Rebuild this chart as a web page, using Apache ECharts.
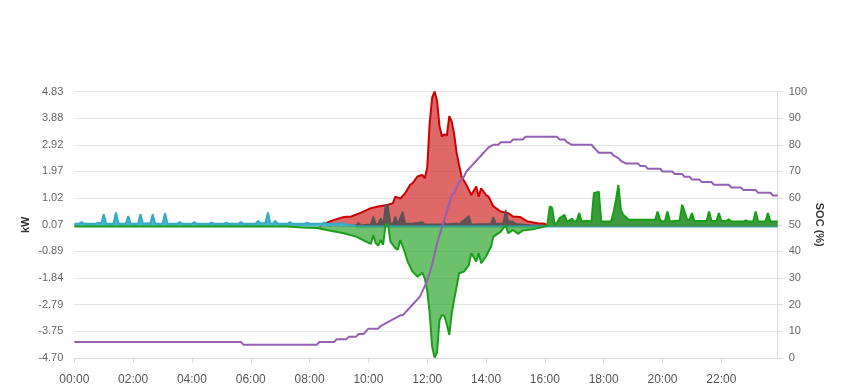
<!DOCTYPE html>
<html>
<head>
<meta charset="utf-8">
<script src="https://cdn.jsdelivr.net/npm/echarts@6/dist/echarts.min.js"></script>
<style>
html,body{margin:0;padding:0;background:#fff;}
#chart{width:849px;height:390px;}
</style>
</head>
<body>
<div id="chart"></div>
<script>
// ---- tick labels ----
const kwTicks = ['-4.70','-3.75','-2.79','-1.84','-0.89','0.07','1.02','1.97','2.92','3.88','4.83'];
const kwMin = -4.70, kwMax = 4.83, kwInterval = 0.953;
const socMin = 0, socMax = 100, socInterval = 10;

// ---- categories (5-minute slots) ----
const times = [];
for (let h = 0; h < 24; h++) {
  for (let m = 0; m < 60; m += 5) {
    times.push(String(h).padStart(2,'0') + ':' + String(m).padStart(2,'0'));
  }
}

// ---- series values [time, kW] ----
const pvData = [
  ['08:20',0],['08:30',0.1],['08:50',0.24],['09:10',0.34],['09:25',0.36],['09:45',0.5],['10:05',0.66],
  ['10:20',0.72],['10:40',0.78],['10:50',0.84],['10:55',1.07],['11:05',1.0],['11:15',1.19],['11:25',1.49],
  ['11:30',1.55],['11:40',1.79],['11:50',1.85],['11:55',1.73],['12:00',2.1],['12:05',3.7],['12:10',4.6],
  ['12:15',4.83],['12:20',4.5],['12:25',3.6],['12:30',3.22],['12:35',3.3],['12:40',3.25],['12:45',3.95],
  ['12:50',3.75],['12:55',3.3],['13:00',2.63],['13:05',2.2],['13:10',1.79],['13:20',1.49],['13:30',1.13],
  ['13:40',1.43],['13:45',1.07],['13:50',1.37],['14:00',1.13],['14:05',1.07],['14:15',0.72],['14:30',0.54],
  ['14:45',0.48],['14:55',0.36],['15:10',0.34],['15:25',0.18],['15:45',0.12],['16:00',0.1],['16:05',0]
];
const loadData = [
  ['08:40',0],['08:45',0.05],['09:35',0.05],['09:40',0.14],['09:45',0.05],['10:05',0.08],['10:10',0.36],
  ['10:15',0.08],['10:20',0.1],['10:25',0.3],['10:30',0.1],['10:35',0.78],['10:40',0.74],['10:45',0.12],
  ['10:50',0.1],['10:55',0.36],['11:00',0.1],['11:10',0.54],['11:15',0.12],['11:25',0.1],['11:50',0.16],
  ['11:55',0.08],['12:30',0.08],['12:35',0.14],['12:40',0.08],['13:00',0.12],['13:05',0.08],['13:25',0.38],
  ['13:30',0.08],['14:10',0.1],['14:15',0.34],['14:20',0.1],['14:35',0.12],['14:40',0.6],['14:45',0.2],
  ['14:55',0.18],['15:00',0.1],['15:30',0.06],['15:55',0.05],['16:00',0]
];
const gridData = [
  ['00:00',0.1],['00:10',0.1],['00:15',0.16],['00:20',0.1],['00:45',0.1],['00:50',0.14],['00:55',0.1],
  ['01:00',0.44],['01:05',0.1],['01:20',0.1],['01:25',0.5],['01:30',0.1],['01:45',0.1],['01:50',0.38],
  ['01:55',0.1],['02:10',0.1],['02:15',0.44],['02:20',0.1],['02:30',0.12],['02:35',0.1],['02:40',0.44],
  ['02:45',0.1],['03:00',0.1],['03:05',0.48],['03:10',0.1],['03:30',0.1],['03:35',0.16],['03:40',0.1],
  ['04:00',0.1],['04:05',0.16],['04:10',0.1],['04:35',0.1],['04:40',0.14],['04:45',0.1],['05:05',0.1],
  ['05:10',0.14],['05:15',0.1],['05:35',0.1],['05:40',0.16],['05:45',0.1],['06:10',0.1],['06:15',0.2],
  ['06:20',0.12],['06:30',0.12],['06:35',0.5],['06:40',0.1],['06:45',0.1],['06:50',0.2],['06:55',0.1],
  ['07:15',0.1],['07:20',0.16],['07:25',0.1],['07:50',0.1],['07:55',0.14],['08:00',0.1],['08:25',0.1],
  ['08:30',0.14],['08:35',0.1],['09:00',0.1],['09:05',0.14],['09:10',0.08],['09:30',0.04],['09:35',0],
  ['23:55',0]
];
const chargeData = [
  ['00:00',0],['07:15',0],['07:45',-0.03],['08:15',-0.05],['08:35',-0.12],['09:10',-0.24],['09:35',-0.36],
  ['09:55',-0.54],['10:05',-0.62],['10:10',-0.3],['10:15',-0.6],['10:20',-0.68],['10:25',-0.48],['10:30',-0.65],
  ['10:35',0.06],['10:40',0.1],['10:45',-0.54],['10:55',-0.77],['11:00',-0.83],['11:05',-0.48],['11:15',-0.95],
  ['11:20',-1.25],['11:30',-1.61],['11:40',-1.79],['11:50',-1.65],['11:55',-1.85],['12:00',-2.3],['12:05',-3.1],
  ['12:10',-4.29],['12:15',-4.68],['12:20',-4.5],['12:25',-3.35],['12:30',-3.16],['12:35',-3.2],['12:40',-3.5],
  ['12:45',-3.87],['12:50',-3.1],['12:55',-2.6],['13:00',-2.15],['13:05',-1.67],['13:15',-1.61],['13:25',-1.37],
  ['13:30',-0.95],['13:40',-1.25],['13:45',-0.95],['13:50',-1.31],['14:00',-1.07],['14:10',-0.72],['14:15',-0.36],
  ['14:30',-0.18],['14:40',0.06],['14:45',-0.24],['14:55',-0.12],['15:05',-0.26],['15:15',-0.14],['15:35',-0.1],
  ['15:55',-0.02],['16:00',0]
];
const dischargeData = [
  ['16:00',0],['16:05',0.05],['16:10',0.72],['16:15',0.66],['16:20',0.06],['16:25',0.15],['16:30',0.3],
  ['16:35',0.36],['16:40',0.42],['16:45',0.18],['16:50',0.22],['16:55',0.28],['17:00',0.18],['17:05',0.2],
  ['17:10',0.48],['17:15',0.18],['17:25',0.21],['17:35',0.18],['17:40',1.19],['17:45',1.22],['17:50',1.25],
  ['17:55',0.18],['18:15',0.18],['18:20',0.5],['18:25',0.95],['18:30',1.49],['18:35',0.6],['18:40',0.42],
  ['18:50',0.26],['18:55',0.24],['19:45',0.24],['19:50',0.54],['19:55',0.24],['20:00',0.18],['20:05',0.2],
  ['20:10',0.54],['20:15',0.18],['20:35',0.22],['20:40',0.78],['20:45',0.54],['20:50',0.26],['20:55',0.24],
  ['21:00',0.48],['21:05',0.2],['21:30',0.2],['21:35',0.54],['21:40',0.2],['21:50',0.2],['21:55',0.48],
  ['22:00',0.2],['22:10',0.2],['22:15',0.26],['22:20',0.18],['22:45',0.18],['22:50',0.22],['22:55',0.18],
  ['23:05',0.18],['23:10',0.54],['23:15',0.18],['23:30',0.18],['23:35',0.48],['23:40',0.18],['23:55',0.18]
];
// ---- SOC [time, %] ----
const socData = [
  ['00:00',6],['05:40',6],['05:45',5],['08:15',5],['08:20',6],['08:50',6],['08:55',7],['09:15',7],['09:20',8],
  ['09:35',8],['09:40',9],['09:50',9],['09:55',10],['10:00',11],['10:20',11],['10:25',12],['10:35',13],
  ['10:45',14],['10:55',15],['11:05',16],['11:10',16],['11:15',17],['11:20',18],['11:25',19],['11:30',20],
  ['11:35',21],['11:40',22],['11:45',23],['11:50',25],['11:55',27],['12:00',29],['12:05',32],['12:10',35],
  ['12:15',39],['12:20',43],['12:25',46],['12:30',49],['12:35',52],['12:40',55],['12:45',58],['12:50',61],
  ['12:55',62],['13:00',64],['13:05',66],['13:10',67],['13:15',68],['13:20',70],['13:25',71],['13:30',72],
  ['13:35',73],['13:40',74],['13:45',75],['13:50',76],['13:55',77],['14:00',78],['14:05',79],['14:15',80],
  ['14:25',80],['14:30',81],['14:50',81],['14:55',82],['15:15',82],['15:20',83],['16:25',83],['16:30',82],
  ['16:40',82],['16:45',81],['16:55',80],['17:35',80],['17:40',79],['17:45',78],['17:50',77],['18:15',77],
  ['18:20',76],['18:30',75],['18:35',74],['18:45',73],['19:10',73],['19:15',72],['19:25',72],['19:30',71],
  ['19:55',71],['20:00',70],['20:20',70],['20:25',69],['20:40',69],['20:45',68],['20:55',68],['21:00',67],
  ['21:15',67],['21:20',66],['21:40',66],['21:45',65],['22:15',65],['22:20',64],['22:40',64],['22:45',63],
  ['23:10',63],['23:15',62],['23:40',62],['23:45',61],['23:55',61]
];

const chart = echarts.init(document.getElementById('chart'), null, {renderer:'canvas'});
const labelFont = {color:'#666', fontSize:11, fontFamily:'"Liberation Sans", Arial, sans-serif'};
function area(name, data, line, fill, width, z) {
  return {
    name, type:'line', data, yAxisIndex:0, symbol:'none', showSymbol:false, z,
    lineStyle:{color:line, width:width},
    itemStyle:{color:line},
    areaStyle:{color:fill, opacity:1}
  };
}
chart.setOption({
  animation:false,
  grid:{left:74.3, right:71.3, top:91.5, bottom:32, containLabel:false},
  xAxis:{
    type:'category', data:times, boundaryGap:false,
    axisLine:{onZero:false, lineStyle:{color:'#dcdcdc', width:1}},
    axisTick:{interval:23, length:5, lineStyle:{color:'#dcdcdc'}},
    axisLabel:{interval:23, margin:16, fontSize:12, color:'#555', fontFamily:'"Liberation Sans", Arial, sans-serif'},
    splitLine:{show:false}
  },
  yAxis:[
    {
      type:'value', min:kwMin, max:kwMax, interval:kwInterval, position:'left',
      name:'kW', nameLocation:'middle', nameGap:43, nameMoveOverlap:false,
      nameTextStyle:{fontWeight:'bold', fontSize:11, color:'#333', fontFamily:'"Liberation Sans", Arial, sans-serif'},
      axisLine:{show:false}, axisTick:{show:false},
      axisLabel:Object.assign({margin:11, formatter:function(v){return kwTicks[Math.round((v-kwMin)/kwInterval)];}}, labelFont),
      splitLine:{show:true, lineStyle:{color:'#e6e6e6', width:1}}
    },
    {
      type:'value', min:socMin, max:socMax, interval:socInterval, position:'right',
      name:'SOC (%)', nameLocation:'middle', nameGap:36, nameRotate:-90, nameMoveOverlap:false,
      nameTextStyle:{fontWeight:'bold', fontSize:11, color:'#333', fontFamily:'"Liberation Sans", Arial, sans-serif'},
      axisLine:{show:true, lineStyle:{color:'#dcdcdc'}}, axisTick:{show:true, length:5, lineStyle:{color:'#dcdcdc'}},
      axisLabel:Object.assign({margin:11}, labelFont),
      splitLine:{show:false}
    }
  ],
  series:[
    area('PV', pvData, '#cc0000', 'rgba(210,40,40,0.7)', 2, 2),
    area('Load', loadData, '#555555', 'rgba(75,75,75,0.8)', 1.5, 3),
    area('Grid', gridData, '#38a9c3', '#47b6cd', 2, 4),
    area('Charge', chargeData, '#1a9e1a', 'rgba(30,160,30,0.65)', 2, 5),
    area('Discharge', dischargeData, '#159f15', '#3f9a3f', 2, 5),
    {
      name:'SOC', type:'line', yAxisIndex:1, data:socData, symbol:'none', showSymbol:false, z:6,
      lineStyle:{color:'#9460b4', width:2}, itemStyle:{color:'#9460b4'}
    }
  ]
});
</script>
</body>
</html>
